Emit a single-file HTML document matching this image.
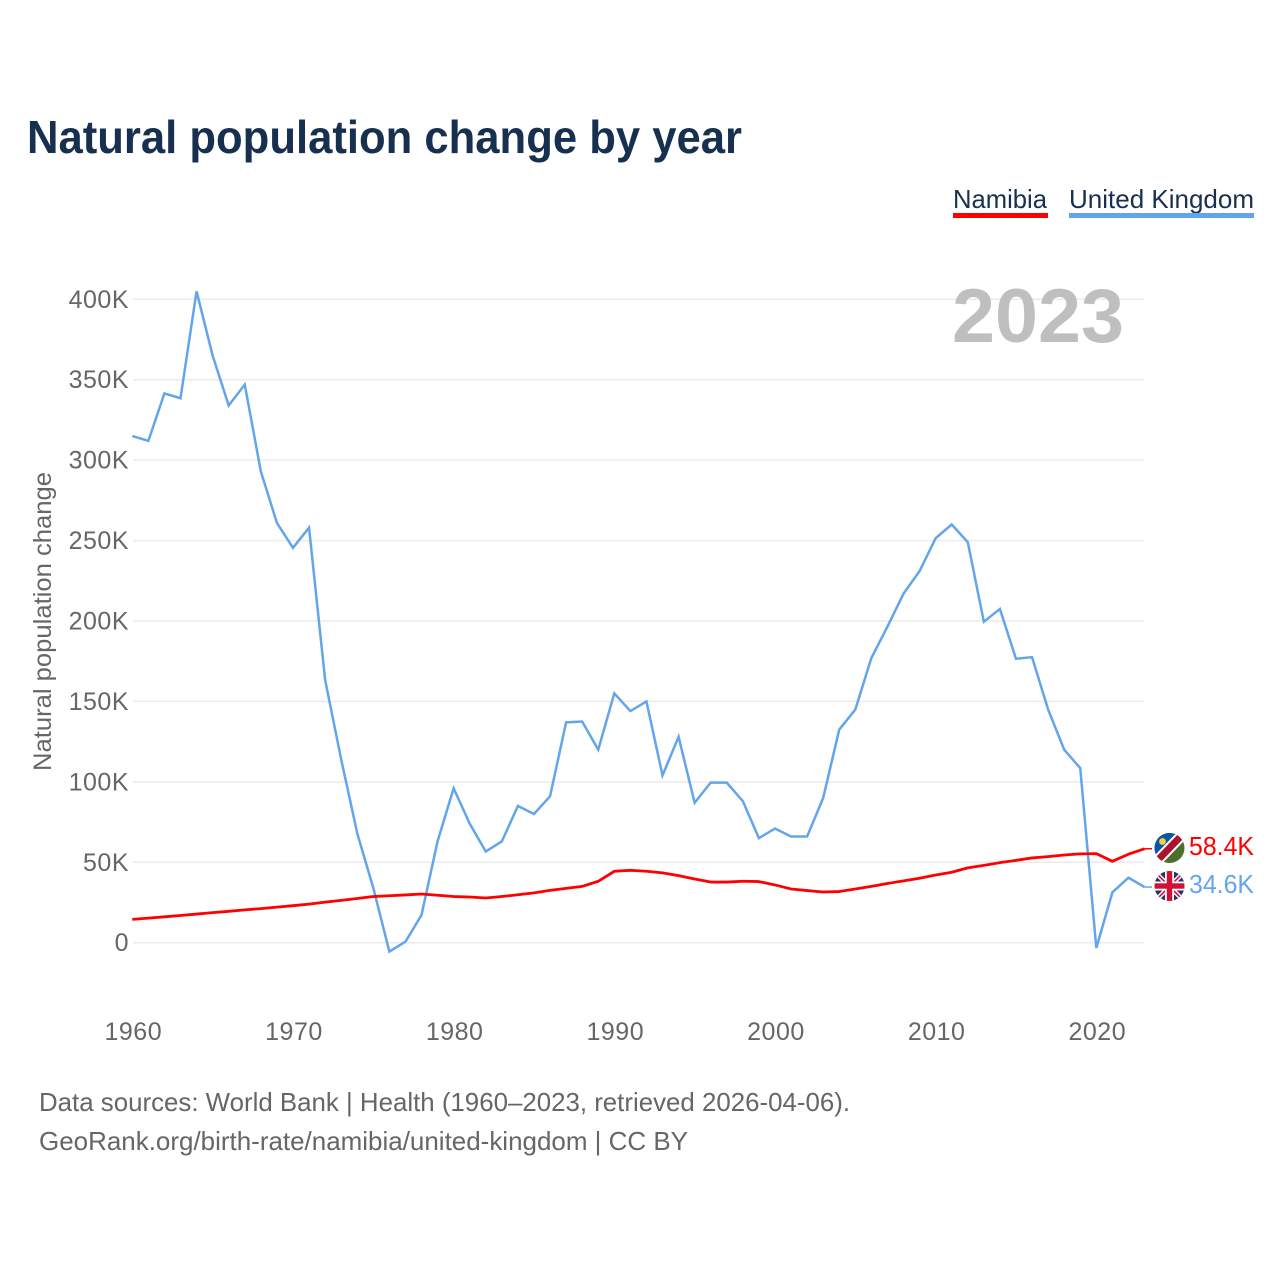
<!DOCTYPE html>
<html lang="en">
<head>
<meta charset="utf-8">
<title>Natural population change by year</title>
<style>
html,body{margin:0;padding:0;background:#fff;width:1280px;height:1280px;overflow:hidden}
svg{display:block;font-family:"Liberation Sans",Arial,sans-serif}
</style>
</head>
<body>
<svg id="chart" xmlns="http://www.w3.org/2000/svg" width="1280" height="1280" viewBox="0 0 1280 1280">
  <defs>
    <clipPath id="clip-na"><circle cx="1169.5" cy="848" r="15"/></clipPath>
    <clipPath id="clip-uk"><circle cx="1169.5" cy="886" r="15"/></clipPath>
  </defs>
  <rect width="1280" height="1280" fill="#fff"/>
  <text x="27" y="153" font-size="46" font-weight="700" fill="#18304f" textLength="715" lengthAdjust="spacingAndGlyphs">Natural population change by year</text>

  <g>
    <text x="953" y="208" font-size="26" fill="#18304f" textLength="94" lengthAdjust="spacingAndGlyphs">Namibia</text>
    <rect x="953" y="213" width="95" height="5" fill="#ff0000"/>
  </g>
  <g>
    <text x="1069" y="208" font-size="26" fill="#18304f" textLength="185" lengthAdjust="spacingAndGlyphs">United Kingdom</text>
    <rect x="1069" y="213" width="185" height="5" fill="#63a5ea"/>
  </g>

  <g id="grid"></g>
  <g id="yticks"></g>
  <g id="xticks"></g>

  <text transform="translate(51,621.5) rotate(-90)" text-anchor="middle" font-size="25" fill="#666" textLength="299" lengthAdjust="spacingAndGlyphs">Natural population change</text>
  <text x="952" y="342" font-size="76" font-weight="700" fill="#bfbfbf" textLength="172" lengthAdjust="spacingAndGlyphs">2023</text>

  <g id="series"></g>

  <g clip-path="url(#clip-na)">
    <rect x="1154" y="833" width="31" height="31" fill="#4c6f2e"/>
    <polygon points="1154,833 1185,833 1154,864" fill="#0a55a8"/>
    <line x1="1156" y1="862" x2="1183" y2="834" stroke="#fff" stroke-width="11"/>
    <line x1="1156" y1="862" x2="1183" y2="834" stroke="#a9142e" stroke-width="7"/>
    <circle cx="1162.5" cy="841.5" r="3.4" fill="#f5cf3c"/>
  </g>
  <g clip-path="url(#clip-uk)">
    <rect x="1154" y="871" width="31" height="31" fill="#22356f"/>
    <line x1="1154" y1="871" x2="1185" y2="902" stroke="#fff" stroke-width="4.5"/>
    <line x1="1185" y1="871" x2="1154" y2="902" stroke="#fff" stroke-width="4.5"/>
    <line x1="1154" y1="871" x2="1185" y2="902" stroke="#d21034" stroke-width="1.6"/>
    <line x1="1185" y1="871" x2="1154" y2="902" stroke="#d21034" stroke-width="1.6"/>
    <rect x="1165" y="871" width="9" height="31" fill="#fff"/>
    <rect x="1154" y="881.5" width="31" height="9" fill="#fff"/>
    <rect x="1166.8" y="871" width="5.4" height="31" fill="#d21034"/>
    <rect x="1154" y="883.3" width="31" height="5.4" fill="#d21034"/>
  </g>
  <text x="1189" y="855" font-size="26" fill="#ff0000" textLength="65" lengthAdjust="spacingAndGlyphs">58.4K</text>
  <text x="1189" y="893" font-size="26" fill="#63a5ea" textLength="65" lengthAdjust="spacingAndGlyphs">34.6K</text>

  <text x="39" y="1111" font-size="26" fill="#666" textLength="811" lengthAdjust="spacingAndGlyphs">Data sources: World Bank | Health (1960–2023, retrieved 2026-04-06).</text>
  <text x="39" y="1150" font-size="26" fill="#666" textLength="649" lengthAdjust="spacingAndGlyphs">GeoRank.org/birth-rate/namibia/united-kingdom | CC BY</text>
</svg>
<script>
const startYear = 1960;
const yTickValues = [0, 50, 100, 150, 200, 250, 300, 350, 400];
const yTickLabels = ['0', '50K', '100K', '150K', '200K', '250K', '300K', '350K', '400K'];
const xTickValues = [1960, 1970, 1980, 1990, 2000, 2010, 2020];
const xTickLabels = ['1960', '1970', '1980', '1990', '2000', '2010', '2020'];
const ukValues = [
  315, 312, 341.5, 338.5, 405, 365, 334, 347, 293, 261,
  245.5, 258, 163.5, 114, 68, 34, -5.5, 0.6, 17.2, 63,
  96, 74, 56.7, 63, 85, 80, 91, 137, 137.5, 120,
  155, 144, 150, 104, 128, 87, 99.5, 99.5, 88, 65,
  71, 66, 66, 90, 132.5, 145, 177, 196.5, 217, 231,
  251.5, 260, 249, 199.5, 207.5, 176.5, 177.5, 145, 120, 108.5,
  -3.3, 31.3, 40.4, 34.6
];
const namibiaValues = [
  14.5, 15.3, 16.1, 16.9, 17.8, 18.7, 19.5, 20.4, 21.2, 22.1,
  23, 24, 25.2, 26.3, 27.5, 28.7, 29.2, 29.7, 30.3, 29.5,
  28.7, 28.4, 27.8, 28.7, 29.8, 31, 32.5, 33.8, 35, 38.2,
  44.4, 45, 44.4, 43.4, 41.7, 39.6, 37.7, 37.7, 38.2, 38,
  35.9, 33.4, 32.4, 31.5, 31.8, 33.4, 35, 36.8, 38.4, 40.1,
  42.1, 43.8, 46.5, 48.1, 49.8, 51.2, 52.7, 53.5, 54.5, 55.2,
  55.4, 50.6, 55, 58.4
];

const svgNS = 'http://www.w3.org/2000/svg';
function xScale(year) { return 132.3 + (year - 1960) * 16.067; }
function yScale(value) { return 942.7 - value * 1.6085; }

function make(tag, attrs, parent) {
  const el = document.createElementNS(svgNS, tag);
  Object.keys(attrs).forEach(function (k) { el.setAttribute(k, attrs[k]); });
  parent.appendChild(el);
  return el;
}

const grid = document.getElementById('grid');
const yticks = document.getElementById('yticks');
yTickValues.forEach(function (v, i) {
  const y = yScale(v);
  const line = make('line', { x1: 133, x2: 1144, y1: y, y2: y, stroke: '#ebebeb', 'stroke-width': 1.5 }, grid);
  
  
  const label = make('text', { x: 129, y: y + 8.5, 'text-anchor': 'end', 'font-size': 25, fill: '#666', 'letter-spacing': 0.5 }, yticks);
  
  
  label.textContent = yTickLabels[i];
});

const xticks = document.getElementById('xticks');
xTickValues.forEach(function (v, i) {
  const label = make('text', { x: xScale(v) + 1, y: 1040, 'text-anchor': 'middle', 'font-size': 25, fill: '#666', 'letter-spacing': 0.5 }, xticks);
  
  
  label.textContent = xTickLabels[i];
});

function pathFor(values) {
  return values.map(function (v, i) {
    return (i ? 'L' : 'M') + xScale(startYear + i).toFixed(2) + ' ' + yScale(v).toFixed(2);
  }).join(' ');
}

const series = document.getElementById('series');
const ukLine = make('path', { d: pathFor(ukValues), fill: 'none', stroke: '#63a5ea', 'stroke-width': 2.5, 'stroke-linejoin': 'miter' }, series);


const naLine = make('path', { d: pathFor(namibiaValues), fill: 'none', stroke: '#ff0000', 'stroke-width': 2.8, 'stroke-linejoin': 'round' }, series);



const lastYear = startYear + ukValues.length - 1;
const naConnector = make('line', { x1: xScale(lastYear), x2: 1152, y1: yScale(namibiaValues[namibiaValues.length - 1]), y2: yScale(namibiaValues[namibiaValues.length - 1]), stroke: '#ff0000', 'stroke-width': 1.5 }, series);


const ukConnector = make('line', { x1: xScale(lastYear), x2: 1152, y1: yScale(ukValues[ukValues.length - 1]), y2: yScale(ukValues[ukValues.length - 1]), stroke: '#63a5ea', 'stroke-width': 1.5 }, series);


</script>
</body>
</html>
